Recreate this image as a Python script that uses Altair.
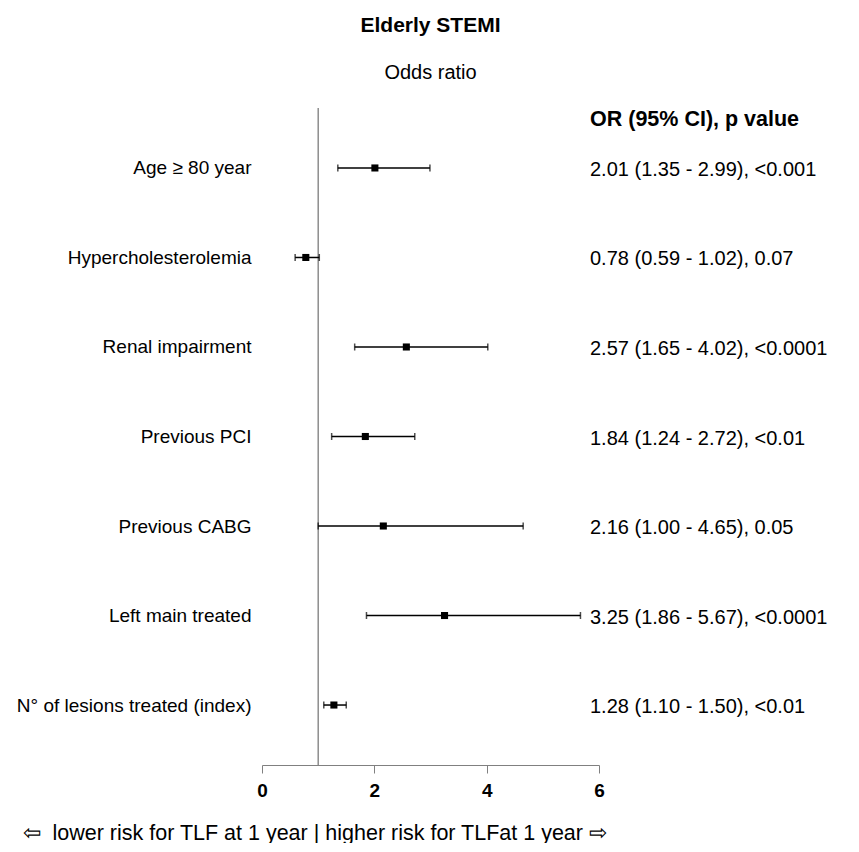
import altair as alt
import pandas as pd

labels = ["Age \u2265 80 year", "Hypercholesterolemia", "Renal impairment", "Previous PCI",
          "Previous CABG", "Left main treated", "N\u00b0 of lesions treated (index)"]
odds = [2.01, 0.78, 2.57, 1.84, 2.16, 3.25, 1.28]
lower = [1.35, 0.59, 1.65, 1.24, 1.00, 1.86, 1.10]
upper = [2.99, 1.02, 4.02, 2.72, 4.65, 5.67, 1.50]
pvals = ["<0.001", "0.07", "<0.0001", "<0.01", "0.05", "<0.0001", "<0.01"]
x_ticks = [0, 2, 4, 6]

df = pd.DataFrame({"label": labels, "or": odds, "lo": lower, "hi": upper, "p": pvals})
df["txt"] = [f"{o:.2f} ({l:.2f} - {h:.2f}), {p}" for o, l, h, p in zip(odds, lower, upper, pvals)]

FONT = "Liberation Sans"

xs = alt.Scale(domain=[0, 6], nice=False, zero=False)
ys = alt.Scale(type="point", domain=labels, padding=0.67)

x_enc = alt.X("lo:Q", scale=xs,
              axis=alt.Axis(values=x_ticks, format="d", grid=False, domainColor="#808080",
                            tickColor="#808080", tickSize=8, labelFontSize=19, labelFontWeight="bold",
                            labelColor="black", labelFont=FONT, labelPadding=8, labelFlush=False,
                            title="\u21e6\u00a0 lower risk for TLF at 1 year | higher risk for TLFat 1 year \u21e8",
                            titleFont=FONT, titleFontSize=21.5, titleFontWeight="normal",
                            titleColor="black", titleAnchor="start", titleAlign="left",
                            titleBaseline="alphabetic", titleX=-240, titleY=74))
y_enc = alt.Y("label:N", scale=ys, sort=labels,
              axis=alt.Axis(title=None, domain=False, ticks=False, labelFontSize=19,
                            labelFont=FONT, labelColor="black", labelPadding=11, labelLimit=400))

base = alt.Chart(df)

ref = alt.Chart(pd.DataFrame({"v": [1]})).mark_rule(color="#707070", strokeWidth=1.2).encode(
    x=alt.X("v:Q", scale=xs))

bars = base.mark_rule(color="black", strokeWidth=1.5).encode(x=x_enc, x2="hi:Q", y=y_enc)
cap_lo = base.mark_tick(color="black", thickness=1.5, size=7, orient="vertical").encode(
    x=alt.X("lo:Q", scale=xs), y=alt.Y("label:N", scale=ys, sort=labels))
cap_hi = base.mark_tick(color="black", thickness=1.5, size=7, orient="vertical").encode(
    x=alt.X("hi:Q", scale=xs), y=alt.Y("label:N", scale=ys, sort=labels))
pts = base.mark_square(color="black", size=50, opacity=1).encode(
    x=alt.X("or:Q", scale=xs), y=alt.Y("label:N", scale=ys, sort=labels))
txt = base.mark_text(align="left", baseline="middle", font=FONT, fontSize=20, color="black", dy=2).encode(
    x=alt.value(328), y=alt.Y("label:N", scale=ys, sort=labels), text="txt:N")
hdr = alt.Chart(pd.DataFrame({"h": ["OR (95% CI), p value"]})).mark_text(
    align="left", baseline="middle", font=FONT, fontSize=21.5, fontWeight="bold", color="black").encode(
    x=alt.value(328), y=alt.value(12), text="h:N")

chart = alt.layer(ref, bars, cap_lo, cap_hi, pts, txt, hdr).properties(
    width=337, height=657,
    background="white",
    title=alt.TitleParams(text="Elderly STEMI", subtitle="Odds ratio", font=FONT, fontSize=21,
                          fontWeight="bold", color="black", subtitleFont=FONT, subtitleFontSize=20,
                          subtitleColor="black", subtitlePadding=27, anchor="middle", offset=24),
    autosize=alt.AutoSizeParams(type="none"),
    padding={"left": 254, "top": 100, "right": 248, "bottom": 78},
).configure_view(strokeWidth=0, stroke="transparent")

chart.save("out.html", embed_options={"renderer": "svg", "actions": False})
